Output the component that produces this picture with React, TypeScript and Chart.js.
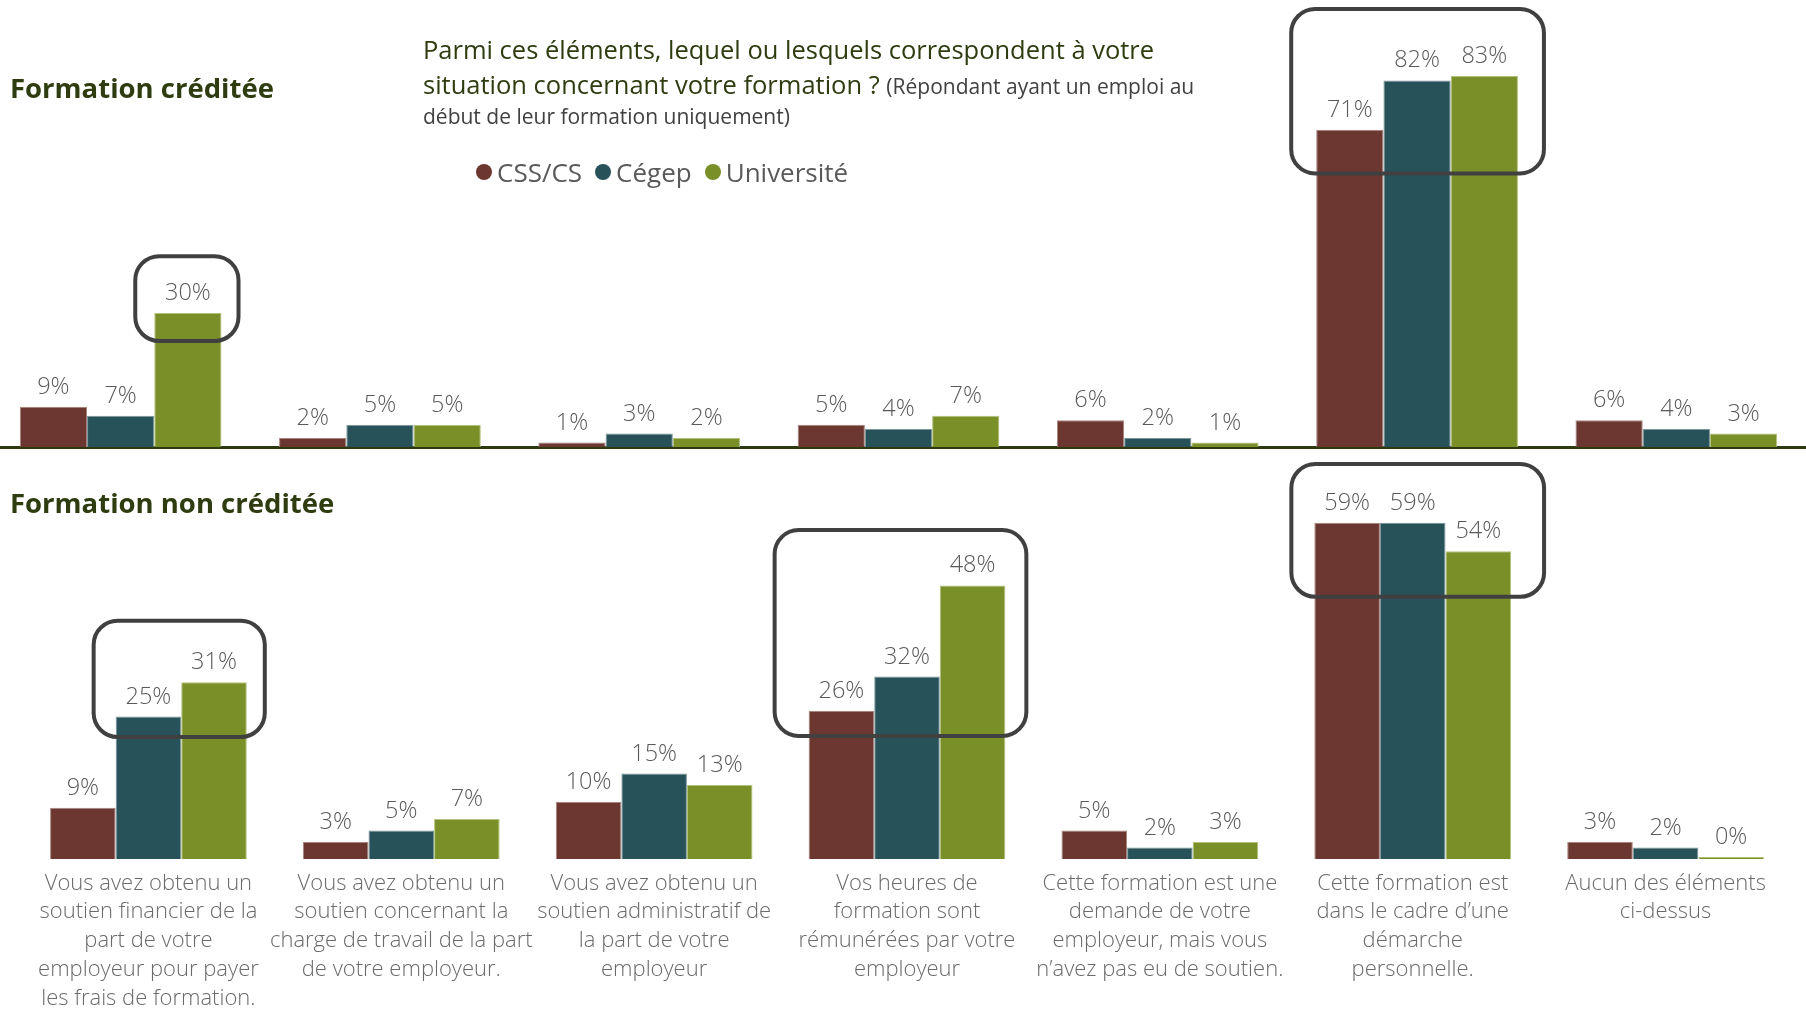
import React, { useEffect, useRef } from 'react';
import { Chart, registerables } from 'chart.js';

Chart.register(...registerables);
Chart.defaults.font.family = '"Open Sans", sans-serif';

const SERIES_NAMES = ['CSS/CS', 'Cégep', 'Université'];
const SERIES_COLORS = ['#6B3730', '#28525A', '#7A8F27'];
const SERIES_EDGES = ['#A8837E', '#7C979B', '#B3C27A'];

const CATEGORIES = [
  ['Vous avez obtenu un', 'soutien financier de la', 'part de votre', 'employeur pour payer', 'les frais de formation.'],
  ['Vous avez obtenu un', 'soutien concernant la', 'charge de travail de la part', 'de votre employeur.'],
  ['Vous avez obtenu un', 'soutien administratif de', 'la part de votre', 'employeur'],
  ['Vos heures de', 'formation sont', 'rémunérées par votre', 'employeur'],
  ['Cette formation est une', 'demande de votre', 'employeur, mais vous', 'n’avez pas eu de soutien.'],
  ['Cette formation est', 'dans le cadre d’une', 'démarche', 'personnelle.'],
  ['Aucun des éléments', 'ci-dessus'],
];

const CREDITED_CSS = [9, 2, 1, 5, 6, 71, 6];
const CREDITED_CEGEP = [7, 5, 3, 4, 2, 82, 4];
const CREDITED_UNIVERSITE = [30, 5, 2, 7, 1, 83, 3];

const NON_CREDITED_CSS = [9, 3, 10, 26, 5, 59, 3];
const NON_CREDITED_CEGEP = [25, 5, 15, 32, 2, 59, 2];
const NON_CREDITED_UNIVERSITE = [31, 7, 13, 48, 3, 54, 0];

// highlighted groups: category index, first/last series index, value range covered
const CREDITED_HIGHLIGHTS = [
  { group: 0, first: 2, last: 2, top: 42.7, bottom: 23.7 },
  { group: 5, first: 0, last: 2, top: 98, bottom: 61.2 },
];
const NON_CREDITED_HIGHLIGHTS = [
  { group: 0, first: 1, last: 2, top: 41.8, bottom: 21.4 },
  { group: 3, first: 0, last: 2, top: 57.7, bottom: 21.6 },
  { group: 5, first: 0, last: 2, top: 69.3, bottom: 46 },
];

const TITLE_LINE_1 = 'Parmi ces éléments, lequel ou lesquels correspondent à votre';
const TITLE_LINE_2 = 'situation concernant votre formation ?';
const TITLE_NOTE_1 = '(Répondant ayant un emploi au';
const TITLE_NOTE_2 = 'début de leur formation uniquement)';
const PANEL_TOP_TITLE = 'Formation créditée';
const PANEL_BOTTOM_TITLE = 'Formation non créditée';

// style: horizontal margins (px) of each highlight frame around its bars
const CREDITED_FRAME_MARGINS = [
  [19, 17],
  [25, 26],
];
const NON_CREDITED_FRAME_MARGINS = [
  [22, 18],
  [34, 21],
  [23, 33],
];

const valueLabelPlugin = {
  id: 'valueLabels',
  afterDatasetsDraw(chart: any) {
    const ctx = chart.ctx;
    ctx.save();
    ctx.font = '300 23.5px "Open Sans"';
    ctx.fillStyle = '#595959';
    ctx.textAlign = 'center';
    ctx.textBaseline = 'alphabetic';
    chart.data.datasets.forEach((ds: any, i: number) => {
      const meta = chart.getDatasetMeta(i);
      meta.data.forEach((bar: any, j: number) => {
        ctx.fillText(ds.data[j] + '%', bar.x, bar.y - 13);
      });
    });
    ctx.restore();
  },
};

function makeHighlightPlugin(boxes: any[], margins: number[][]) {
  return {
    id: 'highlights',
    afterDatasetsDraw(chart: any) {
      const ctx = chart.ctx;
      const y = chart.scales.y;
      ctx.save();
      ctx.strokeStyle = '#404040';
      ctx.lineWidth = 4;
      boxes.forEach((b, k) => {
        const fb = chart.getDatasetMeta(b.first).data[b.group];
        const lb = chart.getDatasetMeta(b.last).data[b.group];
        const left = fb.x - fb.width / 2 - margins[k][0];
        const right = lb.x + lb.width / 2 + margins[k][1];
        const top = y.getPixelForValue(b.top);
        const bottom = y.getPixelForValue(b.bottom);
        ctx.beginPath();
        ctx.roundRect(left, top, right - left, bottom - top, 24);
        ctx.stroke();
      });
      ctx.restore();
    },
  };
}

type PanelProps = {
  series: number[][];
  highlights: any[];
  margins: number[][];
  showLabels: boolean;
  yMax: number;
  left: number;
  top: number;
  width: number;
  height: number;
  axisHeight: number;
  minBar: number;
};

function BarPanel(p: PanelProps) {
  const ref = useRef<HTMLCanvasElement>(null);
  useEffect(() => {
    if (!ref.current) return;
    const chart = new Chart(ref.current, {
      type: 'bar',
      data: {
        labels: CATEGORIES,
        datasets: p.series.map((vals, i) => ({
          label: SERIES_NAMES[i],
          data: vals,
          backgroundColor: SERIES_COLORS[i],
          borderColor: SERIES_EDGES[i],
          borderWidth: { top: 1, left: 1, right: 1, bottom: 0 },
          borderSkipped: 'start',
          barPercentage: 1,
          categoryPercentage: 0.778,
          minBarLength: p.minBar,
        })),
      },
      options: {
        responsive: false,
        animation: false,
        devicePixelRatio: 1,
        layout: { padding: 0 },
        plugins: { legend: { display: false }, tooltip: { enabled: false } },
        scales: {
          x: {
            display: true,
            grid: { display: false, drawTicks: false },
            border: p.showLabels
              ? { display: false }
              : { display: true, color: '#2D3A0E', width: 3 },
            ticks: p.showLabels
              ? {
                  display: true,
                  color: '#6A6A6A',
                  font: { size: 22, lineHeight: 1.309, weight: '300' },
                  padding: 10,
                  maxRotation: 0,
                  minRotation: 0,
                  autoSkip: false,
                }
              : { display: false },
            afterFit: (s: any) => {
              s.height = p.axisHeight;
            },
          },
          y: { display: false, min: 0, max: p.yMax },
        },
      },
      plugins: [makeHighlightPlugin(p.highlights, p.margins), valueLabelPlugin],
    } as any);
    return () => chart.destroy();
  }, []);
  return (
    <canvas
      ref={ref}
      width={p.width}
      height={p.height}
      style={{ position: 'absolute', left: p.left, top: p.top, width: p.width, height: p.height }}
    />
  );
}

export default function App() {
  const titleColor = '#2F3C10';
  return (
    <div
      style={{
        position: 'fixed',
        left: 0,
        top: 0,
        width: 1806,
        height: 1010,
        overflow: 'hidden',
        background: '#ffffff',
        fontFamily: '"Open Sans", sans-serif',
      }}
    >
      <BarPanel
        series={[CREDITED_CSS, CREDITED_CEGEP, CREDITED_UNIVERSITE]}
        highlights={CREDITED_HIGHLIGHTS}
        margins={CREDITED_FRAME_MARGINS}
        showLabels={false}
        yMax={100}
        left={-9}
        top={0}
        width={1815}
        height={450}
        axisHeight={3}
        minBar={0}
      />
      <BarPanel
        series={[NON_CREDITED_CSS, NON_CREDITED_CEGEP, NON_CREDITED_UNIVERSITE]}
        highlights={NON_CREDITED_HIGHLIGHTS}
        margins={NON_CREDITED_FRAME_MARGINS}
        showLabels={true}
        yMax={70}
        left={22}
        top={460}
        width={1770}
        height={550}
        axisHeight={151}
        minBar={2}
      />
      <div
        style={{
          position: 'absolute',
          left: 10,
          top: 70,
          fontSize: 27.5,
          lineHeight: '36px',
          fontWeight: 700,
          color: titleColor,
          whiteSpace: 'nowrap',
        }}
      >
        {PANEL_TOP_TITLE}
      </div>
      <div
        style={{
          position: 'absolute',
          left: 10,
          top: 485,
          fontSize: 27.5,
          lineHeight: '36px',
          fontWeight: 700,
          color: titleColor,
          whiteSpace: 'nowrap',
        }}
      >
        {PANEL_BOTTOM_TITLE}
      </div>
      <div
        style={{
          position: 'absolute',
          left: 423,
          top: 32,
          fontSize: 25.5,
          lineHeight: '34px',
          color: titleColor,
          whiteSpace: 'nowrap',
        }}
      >
        {TITLE_LINE_1}
      </div>
      <div
        style={{
          position: 'absolute',
          left: 423,
          top: 67,
          fontSize: 25.5,
          lineHeight: '34px',
          color: titleColor,
          whiteSpace: 'nowrap',
        }}
      >
        {TITLE_LINE_2}{' '}
        <span style={{ fontSize: 21, color: '#404040' }}>{TITLE_NOTE_1}</span>
      </div>
      <div
        style={{
          position: 'absolute',
          left: 423,
          top: 102,
          fontSize: 21,
          lineHeight: '28px',
          color: '#404040',
          whiteSpace: 'nowrap',
        }}
      >
        {TITLE_NOTE_2}
      </div>
      <div
        style={{
          position: 'absolute',
          left: 476,
          top: 155,
          height: 34,
          display: 'flex',
          alignItems: 'center',
          fontSize: 26,
          color: '#595959',
          whiteSpace: 'nowrap',
        }}
      >
        {SERIES_NAMES.map((name, i) => (
          <div key={name} style={{ display: 'flex', alignItems: 'center', marginRight: 13 }}>
            <span
              style={{
                display: 'inline-block',
                width: 16,
                height: 16,
                borderRadius: '50%',
                background: SERIES_COLORS[i],
                marginRight: 5,
              }}
            />
            <span>{name}</span>
          </div>
        ))}
      </div>
    </div>
  );
}
